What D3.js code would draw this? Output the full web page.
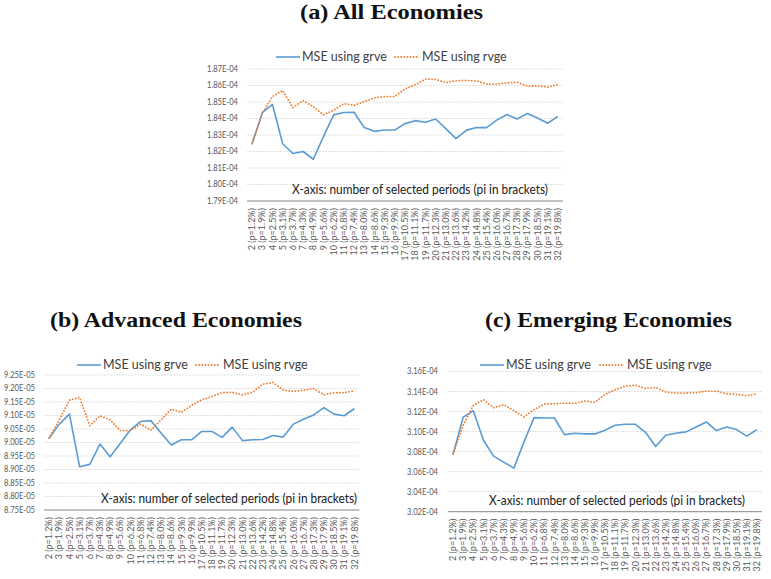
<!DOCTYPE html>
<html><head><meta charset="utf-8">
<script src="https://cdn.jsdelivr.net/npm/d3@7"></script>
<style>
body{margin:0;background:#fff;}
svg{display:block;}
.title{font-family:"Liberation Serif","DejaVu Serif",serif;font-weight:bold;font-size:21px;fill:#111;}
.ytick{font-family:Lato,"Liberation Sans",sans-serif;font-size:8.5px;fill:#595959;}
.xtick{font-family:Lato,"Liberation Sans",sans-serif;font-size:9px;fill:#595959;}
.leg{font-family:Lato,"Liberation Sans",sans-serif;font-size:12.5px;fill:#404040;}
.xlab{font-family:Lato,"Liberation Sans",sans-serif;font-size:12.5px;fill:#202020;}
</style></head>
<body><svg id="chart" width="771" height="579"></svg>
<script>
// ---------- data ----------
const categories = ["2 (p=1.2%)","3 (p=1.9%)","4 (p=2.5%)","5 (p=3.1%)","6 (p=3.7%)","7 (p=4.3%)","8 (p=4.9%)","9 (p=5.6%)","10 (p=6.2%)","11 (p=6.8%)","12 (p=7.4%)","13 (p=8.0%)","14 (p=8.6%)","15 (p=9.3%)","16 (p=9.9%)","17 (p=10.5%)","18 (p=11.1%)","19 (p=11.7%)","20 (p=12.3%)","21 (p=13.0%)","22 (p=13.6%)","23 (p=14.2%)","24 (p=14.8%)","25 (p=15.4%)","26 (p=16.0%)","27 (p=16.7%)","28 (p=17.3%)","29 (p=17.9%)","30 (p=18.5%)","31 (p=19.1%)","32 (p=19.8%)"];
const seriesNames = ["MSE using grve","MSE using rvge"];
const titles = ["(a) All Economies","(b) Advanced Economies","(c) Emerging Economies"];
const xAxisLabel = "X-axis: number of selected periods (pi in brackets)";

// (a) All Economies, units of 1e-4
const allGrve = [1.8247,1.8435,1.8485,1.8247,1.8188,1.8200,1.8153,1.8290,1.8422,1.8436,1.8438,1.8345,1.8322,1.8330,1.8330,1.8369,1.8387,1.8377,1.8397,1.8339,1.8278,1.8328,1.8345,1.8345,1.8390,1.8424,1.8397,1.8430,1.8403,1.8371,1.8413];
const allRvge = [1.8247,1.8430,1.8533,1.8570,1.8466,1.8508,1.8472,1.8422,1.8450,1.8490,1.8480,1.8502,1.8525,1.8533,1.8533,1.8580,1.8604,1.8639,1.8637,1.8618,1.8629,1.8631,1.8627,1.8610,1.8608,1.8616,1.8620,1.8596,1.8598,1.8590,1.8606];
const allTicks = [1.79,1.80,1.81,1.82,1.83,1.84,1.85,1.86,1.87];

// (b) Advanced Economies, units of 1e-5
const advGrve = [9.016,9.068,9.105,8.910,8.919,8.994,8.947,8.997,9.047,9.078,9.081,9.035,8.991,9.010,9.010,9.041,9.041,9.019,9.057,9.007,9.010,9.011,9.026,9.020,9.068,9.086,9.102,9.129,9.105,9.099,9.126];
const advRvge = [9.016,9.084,9.157,9.167,9.062,9.099,9.084,9.044,9.044,9.068,9.046,9.084,9.123,9.112,9.137,9.158,9.170,9.185,9.186,9.176,9.186,9.216,9.222,9.195,9.189,9.194,9.199,9.177,9.184,9.185,9.191];
const advTicks = [8.75,8.80,8.85,8.90,8.95,9.00,9.05,9.10,9.15,9.20,9.25];

// (c) Emerging Economies, units of 1e-4
const emGrve = [3.0774,3.1143,3.1209,3.0914,3.0755,3.0695,3.0635,3.0897,3.1139,3.1136,3.1136,3.0970,3.0983,3.0977,3.0977,3.1013,3.1063,3.1073,3.1073,3.0993,3.0851,3.0964,3.0983,3.0997,3.1046,3.1096,3.1010,3.1046,3.1020,3.0954,3.1020];
const emRvge = [3.0774,3.1063,3.1262,3.1318,3.1239,3.1269,3.1209,3.1146,3.1219,3.1275,3.1279,3.1285,3.1282,3.1305,3.1292,3.1371,3.1418,3.1454,3.1464,3.1431,3.1441,3.1395,3.1385,3.1385,3.1388,3.1405,3.1405,3.1378,3.1371,3.1358,3.1375];
const emTicks = [3.02,3.04,3.06,3.08,3.10,3.12,3.14,3.16];

// ---------- drawing ----------
const svg = d3.select("#chart");
const blue = "#5B9BD5", orange = "#ED7D31";

function fmtE(v, exp){
  return d3.format(".2f")(v) + "E-" + String(exp).padStart(2,"0");
}

function drawPanel(p){
  const g = svg.append("g");
  const x = d3.scaleBand().domain(categories).range([p.x0, p.x1]);
  const y = d3.scaleLinear().domain(d3.extent(p.ticks)).range([p.yb, p.yt]);
  const cx = d => x(d) + x.bandwidth()/2;

  // gridlines
  g.selectAll(".grid").data(p.ticks.slice(1)).join("line")
    .attr("x1", p.x0).attr("x2", p.x1)
    .attr("y1", d => y(d)).attr("y2", d => y(d))
    .attr("stroke", "#d9d9d9").attr("stroke-width", 0.8).attr("stroke-dasharray", "2,1");
  // y tick labels
  g.selectAll(".ytick").data(p.ticks).join("text").attr("class","ytick")
    .attr("x", p.x0 - p.labGap).attr("y", d => y(d)).attr("dy","0.35em")
    .attr("text-anchor","end").attr("textLength", 31).attr("lengthAdjust","spacingAndGlyphs")
    .text(d => fmtE(d, p.exp));
  // x axis line
  g.append("line").attr("x1", p.x0).attr("x2", p.x1).attr("y1", p.yb).attr("y2", p.yb)
    .attr("stroke", "#868686").attr("stroke-width", 1);
  // x tick labels
  g.selectAll(".xtick").data(categories).join("text").attr("class","xtick")
    .attr("transform", d => `translate(${cx(d)},${p.yb + 7}) rotate(-90)`)
    .attr("dy","0.35em").attr("text-anchor","end").text(d => d);
  // x axis title
  g.append("text").attr("class","xlab").attr("x", p.xlabX).attr("y", p.yb - 7)
    .attr("text-anchor","end").attr("textLength", 256).attr("lengthAdjust","spacingAndGlyphs")
    .text(xAxisLabel);

  const line = d3.line().x((d,i) => cx(categories[i])).y(d => y(d));
  g.append("path").datum(p.grve).attr("d", line).attr("fill","none")
    .attr("stroke", blue).attr("stroke-width", 1.6).attr("stroke-linejoin","round");
  g.append("path").datum(p.rvge).attr("d", line).attr("fill","none")
    .attr("stroke", orange).attr("stroke-width", 1.8).attr("stroke-dasharray","0.1,3")
    .attr("stroke-linecap","round");

  // legend
  const L = p.leg;
  g.append("line").attr("x1", L.x1).attr("x2", L.x1 + 24).attr("y1", L.y).attr("y2", L.y)
    .attr("stroke", blue).attr("stroke-width", 1.6);
  g.append("text").attr("class","leg").attr("x", L.x1 + 26).attr("y", L.y).attr("dy","0.35em").text(seriesNames[0]);
  g.append("line").attr("x1", L.x2).attr("x2", L.x2 + 23).attr("y1", L.y).attr("y2", L.y)
    .attr("stroke", orange).attr("stroke-width", 1.8).attr("stroke-dasharray","0.1,3").attr("stroke-linecap","round");
  g.append("text").attr("class","leg").attr("x", L.x2 + 27).attr("y", L.y).attr("dy","0.35em").text(seriesNames[1]);

  // title
  svg.append("text").attr("class","title").attr("x", p.tx).attr("y", p.ty)
    .attr("text-anchor","middle").attr("dy","0.35em")
    .attr("textLength", p.tw).attr("lengthAdjust","spacingAndGlyphs").text(p.title);
}

drawPanel({title:titles[0], tx:391.5, ty:12, tw:183, x0:247, x1:563, yt:69, yb:201, ticks:allTicks, exp:4,
  labGap:9, grve:allGrve, rvge:allRvge, xlabX:548, leg:{x1:276, x2:395, y:57}});
drawPanel({title:titles[1], tx:176, ty:320, tw:252, x0:44, x1:359.5, yt:375, yb:510, ticks:advTicks, exp:5,
  labGap:9, grve:advGrve, rvge:advRvge, xlabX:357, leg:{x1:77, x2:196, y:365}});
drawPanel({title:titles[2], tx:608.5, ty:320, tw:247, x0:448, x1:762, yt:371.5, yb:511.7, ticks:emTicks, exp:4,
  labGap:10, grve:emGrve, rvge:emRvge, xlabX:745, leg:{x1:480, x2:600, y:365}});
</script></body></html>
